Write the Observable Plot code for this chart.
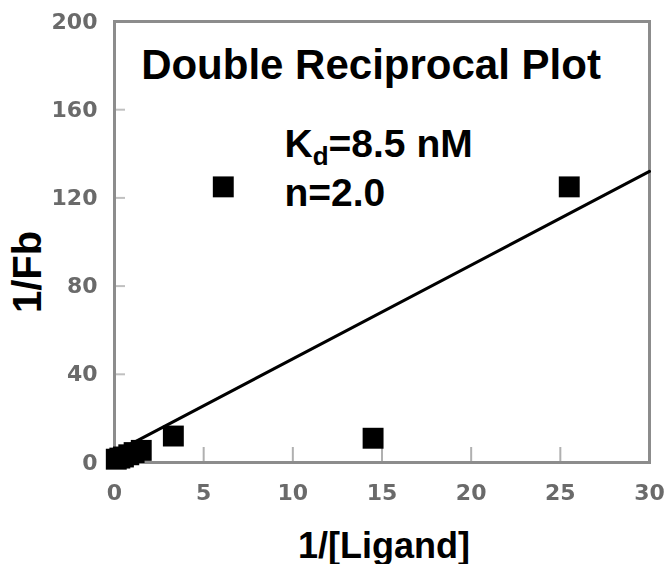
<!DOCTYPE html>
<html>
<head>
<meta charset="utf-8">
<script src="https://cdn.jsdelivr.net/npm/d3@7"></script>
<script src="https://cdn.jsdelivr.net/npm/@observablehq/plot@0.6"></script>
<style>
  html, body { margin: 0; padding: 0; background: #fff; }
</style>
</head>
<body>
<div id="chart"></div>
<script>
// ---- data ----
const xTicks = [0, 5, 10, 15, 20, 25, 30];
const yTicks = [0, 40, 80, 120, 160, 200];
const invLigand = [0.1, 0.3, 0.5, 0.8, 1.1, 1.5, 3.3, 6.1, 14.5, 25.5];
const invFb     = [1.5, 2.0, 2.5, 3.5, 4.5, 5.5, 12, 125, 11, 125];
const fitX = [0, 30];
const fitY = [4.5, 132];
const titleText = "Double Reciprocal Plot";
const kdText = "Kd=8.5 nM";
const nText = "n=2.0";
const xLabel = "1/[Ligand]";
const yLabel = "1/Fb";

const points = invLigand.map((x, i) => ({x, y: invFb[i]}));
const fit = fitX.map((x, i) => ({x, y: fitY[i]}));

const W = 667, H = 564;
const mL = 114, mR = 18, mT = 21, mB = 102;
const frameW = W - mL - mR, frameH = H - mT - mB;
const font = "'Liberation Sans', Arial, sans-serif";

const svg = Plot.plot({
  width: W,
  height: H,
  marginLeft: mL,
  marginRight: mR,
  marginTop: mT,
  marginBottom: mB,
  style: {fontFamily: font, background: "white", color: "black"},
  x: {domain: [0, 30]},
  y: {domain: [0, 200]},
  marks: [
    Plot.tickX(xTicks, {x: d => d, insetTop: frameH - 15, stroke: "#b0b0b0", strokeWidth: 2}),
    Plot.tickY(yTicks, {y: d => d, insetRight: frameW - 11, stroke: "#c0c0c0", strokeWidth: 2}),
    Plot.frame({stroke: "#8c8c8c", strokeWidth: 3}),
    Plot.axisX({ticks: xTicks, tickSize: 0, tickPadding: 22, fontSize: 22, fontWeight: "bold",
      fontFamily: "'DejaVu Sans', sans-serif", fill: "#6a6a6a", label: null}),
    Plot.axisY({ticks: yTicks, tickSize: 0, tickPadding: 17, fontSize: 22, fontWeight: "bold",
      fontFamily: "'DejaVu Sans', sans-serif", fill: "#6a6a6a", label: null}),
    Plot.line(fit, {x: "x", y: "y", stroke: "black", strokeWidth: 3}),
    Plot.dot(points, {x: "x", y: "y", symbol: "square", r: 11.8, fill: "black", stroke: null}),
    Plot.text([titleText], {frameAnchor: "top", textAnchor: "middle", dx: -11, dy: 57, lineAnchor: "bottom",
      fontSize: 42, fontWeight: "bold", fill: "black", text: d => d}),
    Plot.text([kdText], {frameAnchor: "top-left", textAnchor: "start", dx: 170, dy: 135, lineAnchor: "bottom",
      fontSize: 39, fontWeight: "bold", fill: "black", text: d => d}),
    Plot.text([nText], {frameAnchor: "top-left", textAnchor: "start", dx: 170, dy: 184, lineAnchor: "bottom",
      fontSize: 39, fontWeight: "bold", fill: "black", text: d => d}),
    Plot.text([xLabel], {frameAnchor: "bottom", textAnchor: "middle", dx: 2, dy: 95, lineAnchor: "bottom",
      fontSize: 36, fontWeight: "bold", fill: "black", text: d => d}),
    Plot.text([yLabel], {frameAnchor: "left", textAnchor: "middle", dx: -86, dy: 30, rotate: -90,
      fontSize: 40, fontWeight: "bold", fill: "black", text: d => d})
  ]
});

// subscript "d" in Kd
const s = d3.select(svg);
s.selectAll("text").each(function() {
  const t = d3.select(this);
  if (t.text() === kdText) {
    t.text(null);
    t.append("tspan").text("K");
    t.append("tspan").attr("dy", 8).attr("font-size", 26).text("d");
    t.append("tspan").attr("dy", -8).text("=8.5 nM");
  }
});

// soften tick labels like the scanned original
const defs = s.insert("defs", ":first-child");
defs.append("filter").attr("id", "soft").append("feGaussianBlur").attr("stdDeviation", 0.7);
s.selectAll('g[aria-label="x-axis tick label"], g[aria-label="y-axis tick label"]').attr("filter", "url(#soft)");

document.getElementById("chart").appendChild(svg);
</script>
</body>
</html>
